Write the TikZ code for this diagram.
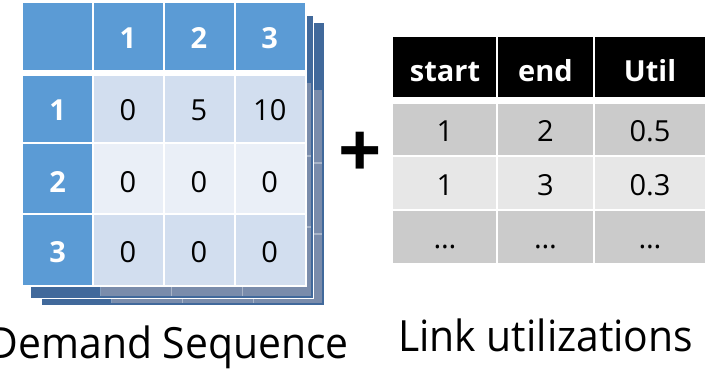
\documentclass[tikz,border=0pt]{standalone}
\usepackage{fontspec}
\setmainfont{Open Sans}
\newfontfamily\captionfont[FakeStretch=0.95]{Open Sans}
\definecolor{hdrblue}{HTML}{5B9BD5}
\definecolor{bodya}{HTML}{D2DEEF}
\definecolor{bodyb}{HTML}{EAEFF7}
\definecolor{layerdark}{HTML}{41699B}
\definecolor{layergrey}{HTML}{7A8CAB}
\definecolor{greya}{HTML}{CBCBCB}
\definecolor{greyb}{HTML}{E7E7E7}
\begin{document}
\begin{tikzpicture}[x=1pt,y=-1pt,
  cellnum/.style={inner sep=0pt, text height=20.7pt, text depth=0pt,
    font=\fontsize{29}{30}\selectfont},
  hdrnum/.style={cellnum, text=white, font=\fontsize{29}{30}\selectfont\bfseries},
  caption/.style={inner sep=0pt, font=\captionfont\fontsize{43}{46}\selectfont},
  gridline/.style={white, line width=2pt}]
\useasboundingbox (0,0) rectangle (705,369);

% stacked back layers of the demand matrix
\foreach \dx/\dy in {19/20, 8/13}{
  \begin{scope}[xshift=\dx pt, yshift=-\dy pt]
    \fill[layergrey] (23,3) rectangle (305,285);
    \fill[layerdark] (23,3) rectangle (305,70);
    \fill[layerdark] (23,3) rectangle (92.5,285);
    \foreach \x in {92.5,163.5,234.5}
      \draw[white, opacity=0.35, line width=1.5pt] (\x,3) -- (\x,285);
    \foreach \y in {143,214}
      \draw[white, opacity=0.35, line width=1.5pt] (23,\y) -- (305,\y);
    \draw[layerdark, line width=2pt] (24.5,4.5) rectangle (303.5,283.5);
    \draw[white, line width=1.5pt] (22.5,2.5) rectangle (305.5,285.5);
  \end{scope}
}

% front demand matrix
\fill[hdrblue] (23,3) rectangle (305,70);
\fill[hdrblue] (23,76) rectangle (92.5,285);
\fill[bodya] (92.5,76) rectangle (305,143);
\fill[bodyb] (92.5,143) rectangle (305,214);
\fill[bodya] (92.5,214) rectangle (305,285);
\foreach \x in {92.5,163.5,234.5}
  \draw[gridline] (\x,3) -- (\x,285);
\foreach \y in {143,214}
  \draw[gridline] (23,\y) -- (305,\y);
\draw[white, line width=6pt] (23,73) -- (305,73);
\draw[white, line width=2pt] (22,2) rectangle (306,286);

% column and row labels
\foreach \i/\x in {1/128,2/199,3/269.75}
  \node[hdrnum] (colhead\i) at (\x,38.5) {\i};
\foreach \i/\y in {1/110.5,2/182,3/252}
  \node[hdrnum] (rowhead\i) at (57.75,\y) {\i};

% matrix entries
\node[cellnum] (d11) at (128,110.5) {0};
\node[cellnum] (d12) at (199,110.5) {5};
\node[cellnum] (d13) at (269.75,110.5) {10};
\node[cellnum] (d21) at (128,182) {0};
\node[cellnum] (d22) at (199,182) {0};
\node[cellnum] (d23) at (269.75,182) {0};
\node[cellnum] (d31) at (128,252) {0};
\node[cellnum] (d32) at (199,252) {0};
\node[cellnum] (d33) at (269.75,252) {0};

% plus sign
\node[inner sep=0pt, font=\fontsize{76}{80}\selectfont\bfseries] (plus) at (360,155) {+};

% link utilization table
\fill[black] (393,37) rectangle (705,97);
\fill[greya] (393,104) rectangle (705,156);
\fill[greyb] (393,156) rectangle (705,210);
\fill[greya] (393,210) rectangle (705,263);
\foreach \x in {497,594}
  \draw[gridline] (\x,37) -- (\x,263);
\draw[gridline] (393,156) -- (705,156);
\draw[gridline] (393,210) -- (705,210);

\node[hdrnum] (hstart) at (445,71.5) {start};
\node[hdrnum] (hend) at (545.5,71.5) {end};
\node[hdrnum] (hutil) at (650,71.5) {Util};
\node[cellnum] (u11) at (445,131) {1};
\node[cellnum] (u12) at (545.5,131) {2};
\node[cellnum] (u13) at (650,131) {0.5};
\node[cellnum] (u21) at (445,185) {1};
\node[cellnum] (u22) at (545.5,185) {3};
\node[cellnum] (u23) at (650,185) {0.3};
\node[cellnum] (u31) at (445,238) {…};
\node[cellnum] (u32) at (545.5,238) {…};
\node[cellnum] (u33) at (650,238) {…};

% captions
\node[caption, anchor=base east] (capdemand) at (349,358) {Demand Sequence};
\node[caption, anchor=base west] (caplink) at (398,351) {Link utilizations};
\end{tikzpicture}
\end{document}
